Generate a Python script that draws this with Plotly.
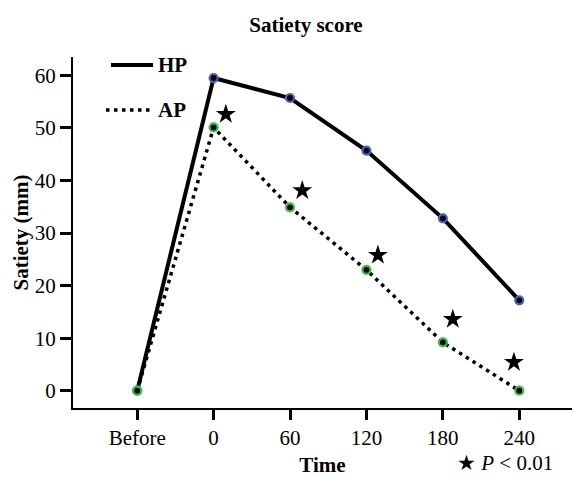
import plotly.graph_objects as go

# ---- data ----
time_labels = ["Before", "0", "60", "120", "180", "240"]
hp_values = [0, 59.5, 55.7, 45.7, 32.8, 17.2]
ap_values = [0, 50.1, 34.9, 23.0, 9.2, 0.0]
sig_times = ["0", "60", "120", "180", "240"]
sig_star_y = [52.6, 38.1, 25.8, 13.6, 5.4]
y_ticks = [0, 10, 20, 30, 40, 50, 60]
series_names = ["HP", "AP"]

# ---- style ----
FONT = "Liberation Serif, Times New Roman, serif"
STAR_SHIFT = [0.16, 0.16, 0.15, 0.13, -0.07]  # horizontal nudge of star glyphs (axis units)
W, H = 573, 477
ML, MR, MT, MB = 73, 1, 57, 69
PW, PH = W - ML - MR, H - MT - MB


def px_x(px):
    return (px - ML) / PW


def px_y(py):
    return (H - MB - py) / PH


x_idx = list(range(len(time_labels)))
star_x = [time_labels.index(t) + s for t, s in zip(sig_times, STAR_SHIFT)]

fig = go.Figure()

fig.add_trace(go.Scatter(x=x_idx, y=hp_values, mode="lines", name=series_names[0],
                         line=dict(color="black", width=4), showlegend=False))
fig.add_trace(go.Scatter(x=x_idx, y=ap_values, mode="lines", name=series_names[1],
                         line=dict(color="black", width=3.5, dash="3.5px,4.5px"), showlegend=False))
fig.add_trace(go.Scatter(x=x_idx, y=hp_values, mode="markers", showlegend=False,
                         marker=dict(size=8, color="black", line=dict(color="#4863b5", width=2.2))))
fig.add_trace(go.Scatter(x=x_idx, y=ap_values, mode="markers", showlegend=False,
                         marker=dict(size=8, color="black", line=dict(color="#3cba4c", width=2.2))))
fig.add_trace(go.Scatter(x=star_x, y=sig_star_y, mode="markers", showlegend=False,
                         marker=dict(symbol="star", size=15, color="black", line=dict(width=0))))

# hand-drawn legend (long line samples as in the reference)
shapes = [
    dict(type="line", xref="paper", yref="paper", x0=px_x(111), x1=px_x(153), y0=px_y(65), y1=px_y(65),
         line=dict(color="black", width=4)),
    dict(type="line", xref="paper", yref="paper", x0=px_x(106), x1=px_x(153), y0=px_y(110), y1=px_y(110),
         line=dict(color="black", width=3.5, dash="3.5px,4.5px")),
]
annotations = [
    dict(xref="paper", yref="paper", x=px_x(156), y=px_y(65), xanchor="left", yanchor="middle",
         text="<b>" + series_names[0] + "</b>", showarrow=False, font=dict(family=FONT, size=21)),
    dict(xref="paper", yref="paper", x=px_x(156), y=px_y(110), xanchor="left", yanchor="middle",
         text="<b>" + series_names[1] + "</b>", showarrow=False, font=dict(family=FONT, size=21)),
    dict(xref="paper", yref="paper", x=px_x(456), y=px_y(476), xanchor="left", yanchor="bottom",
         text="<span style=\"font-size:21px\">★</span> <i>P</i> < 0.01", showarrow=False,
         borderpad=0, font=dict(family=FONT, size=21, color="black")),
]

fig.update_layout(
    width=W, height=H,
    margin=dict(l=ML, r=MR, t=MT, b=MB),
    paper_bgcolor="white", plot_bgcolor="white",
    font=dict(family=FONT, size=21, color="black"),
    title=dict(text="<b>Satiety score</b>", x=306 / W, xanchor="center",
               y=1 - 25 / H, yanchor="middle", font=dict(family=FONT, size=21)),
    showlegend=False,
    xaxis=dict(range=[-0.84, 5.69], tickmode="array", tickvals=x_idx, ticktext=time_labels,
               showline=True, linecolor="black", linewidth=2, showgrid=False, zeroline=False,
               ticks="outside", ticklen=10, tickwidth=2.5, tickcolor="black",
               tickfont=dict(family=FONT, size=21),
               title=dict(text="<b>Time</b>", font=dict(family=FONT, size=21), standoff=9)),
    yaxis=dict(range=[-3.29, 63.5], tickmode="array", tickvals=y_ticks,
               showline=True, linecolor="black", linewidth=2, showgrid=False, zeroline=False,
               ticks="outside", ticklen=11, tickwidth=2.5, tickcolor="black",
               tickfont=dict(family=FONT, size=21),
               title=dict(text="<b>Satiety (mm)</b>", font=dict(family=FONT, size=21), standoff=0)),
    shapes=shapes,
    annotations=annotations,
)

fig.write_html("out.html", config={"displayModeBar": False},
               post_script="document.body.style.margin='0px';")
